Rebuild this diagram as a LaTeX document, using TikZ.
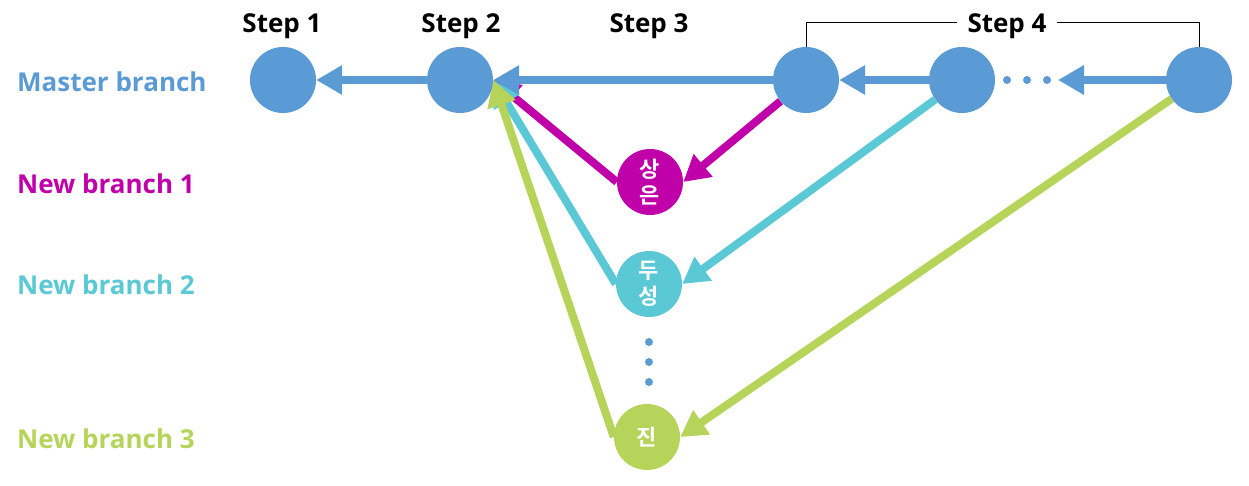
\documentclass[tikz,border=0pt]{standalone}
\usepackage{fontspec}
\setmainfont{Open Sans}
\newfontfamily\kr{Noto Sans CJK KR}[BoldFont={Noto Sans CJK KR Bold}]
\usetikzlibrary{arrows.meta,backgrounds}
\definecolor{mblue}{RGB}{91,155,213}
\definecolor{mmag}{RGB}{192,0,168}
\definecolor{mcyan}{RGB}{91,200,214}
\definecolor{mgreen}{RGB}{182,212,90}
\begin{document}
\begin{tikzpicture}[x=1pt,y=-1pt,
  cnode/.style={circle,fill=#1,minimum size=66pt,inner sep=0pt,text=white,font=\kr\bfseries\fontsize{22}{26}\selectfont,align=center},
  link/.style={draw=#1,line width=8pt,-{Triangle[length=26pt,width=28pt]}},
  blabel/.style={anchor=base west,inner sep=0pt,font=\bfseries\fontsize{26}{30}\selectfont,text=#1},
  steplabel/.style={anchor=base,font=\bfseries\fontsize{26}{30}\selectfont},
  dotnode/.style={circle,fill=mblue,minimum size=8pt,inner sep=0pt}]
\useasboundingbox (0,0) rectangle (1249,485);
% master nodes
\node[cnode=mblue] (s1) at (283,80) {};
\node[cnode=mblue] (s2) at (460,80) {};
\node[cnode=mblue] (s3) at (806,80) {};
\node[cnode=mblue] (s4a) at (962,80) {};
\node[cnode=mblue] (s4b) at (1199,80) {};
\node[dotnode] (h1) at (1007,80) {};
\node[dotnode] (h2) at (1027,80) {};
\node[dotnode] (h3) at (1047,80) {};
\coordinate (dend) at (1058,80);
% branch nodes
\node[cnode=mmag] (b1) at (650,182) {상\\은};
\node[cnode=mcyan] (b2) at (649,284) {두\\성};
\node[cnode=mgreen] (b3) at (647,437) {진};
\node[dotnode] (v1) at (649,342) {};
\node[dotnode] (v2) at (649,362) {};
\node[dotnode] (v3) at (649,382) {};
% connectors
\begin{scope}[on background layer]
\draw[link=mmag] (s3) -- (b1.east);
\draw[link=mmag] (b1.west) -- (s2.east);
\draw[link=mcyan] (s4a) -- (b2.east);
\draw[link=mcyan] (b2.west) -- (s2.east);
\draw[link=mgreen] (s4b) -- (b3.east);
\draw[link=mgreen] (b3.west) -- (s2.east);
\draw[link=mblue] (s2) -- (s1);
\draw[link=mblue] (s3) -- (s2);
\draw[link=mblue] (s4a) -- (s3);
\draw[link=mblue] (s4b) -- (dend);
\end{scope}
% labels
\node[blabel=mblue] (lm) at (17,91) {Master branch};
\node[blabel=mmag] (l1) at (17,193) {New branch 1};
\node[blabel=mcyan] (l2) at (17,294) {New branch 2};
\node[blabel=mgreen] (l3) at (17,448) {New branch 3};
\node[steplabel] (t1) at (282,32) {Step 1};
\node[steplabel] (t2) at (461,32) {Step 2};
\node[steplabel] (t3) at (649,32) {Step 3};
\node[steplabel,inner xsep=10pt] (t4) at (1007,32) {Step 4};
\coordinate (bl) at (806,22);
\coordinate (br) at (1199,22);
\draw[line width=1pt] (s3.north) -- (bl) -- (bl -| t4.west);
\draw[line width=1pt] (s4b.north) -- (br) -- (br -| t4.east);
\end{tikzpicture}
\end{document}
